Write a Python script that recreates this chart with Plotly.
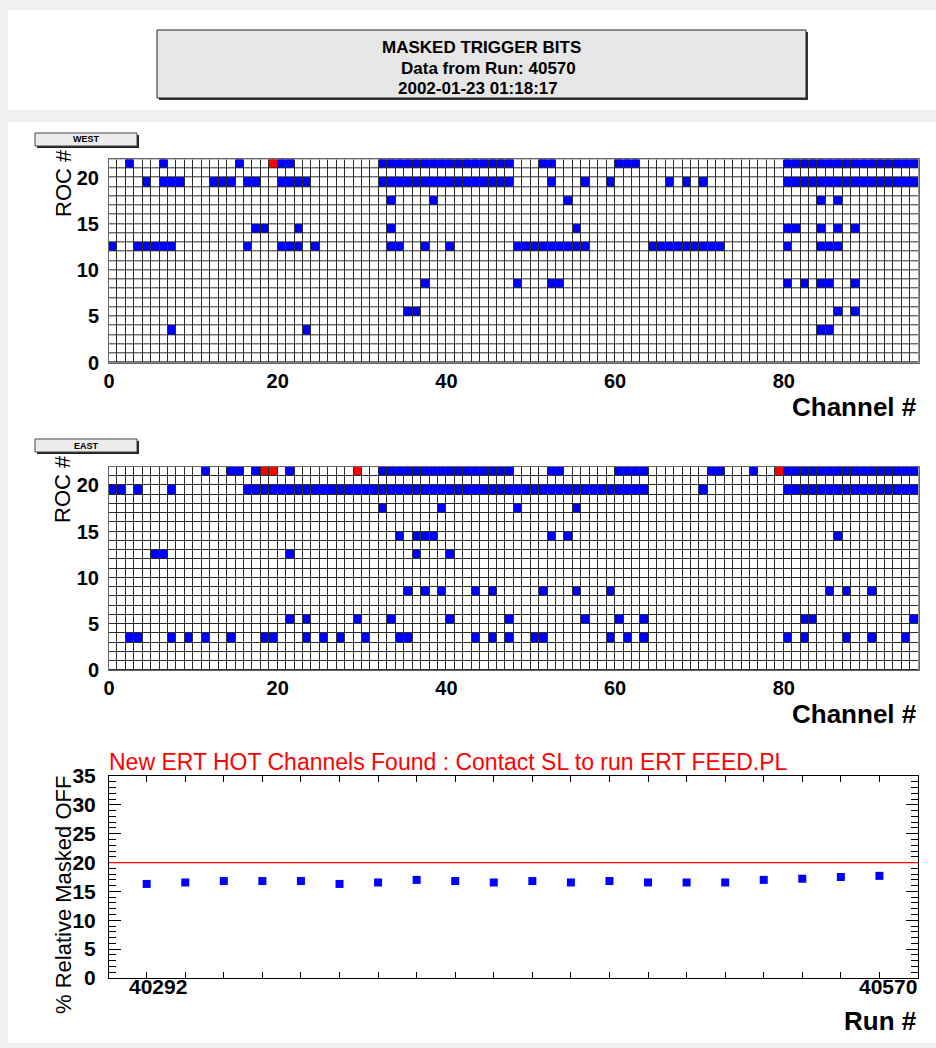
import numpy as np
import plotly.graph_objects as go

# ---------------- DATA ----------------
N_CHANNELS = 96
N_ROCS = 22

# WEST: masked (blue) channels per ROC
WEST_ROC21 = [2, 6, 15, 20, 21, 32, 33, 34, 35, 36, 37, 38, 39, 40, 41, 42, 43, 44, 45, 46, 47,
              51, 52, 60, 61, 62, 80, 81, 82, 83, 84, 85, 86, 87, 88, 89, 90, 91, 92, 93, 94, 95]
WEST_ROC19 = [4, 6, 7, 8, 12, 13, 14, 16, 17, 20, 21, 22, 23, 32, 33, 34, 35, 36, 37, 38, 39,
              40, 41, 42, 43, 44, 45, 46, 47, 52, 56, 59, 66, 68, 70, 80, 81, 82, 83, 84, 85,
              86, 87, 88, 89, 90, 91, 92, 93, 94, 95]
WEST_ROC17 = [33, 38, 54, 84, 86]
WEST_ROC14 = [17, 18, 22, 33, 55, 80, 81, 84, 86, 88]
WEST_ROC12 = [0, 3, 4, 5, 6, 7, 16, 20, 21, 22, 24, 33, 34, 37, 40, 48, 49, 50, 51, 52, 53,
              54, 55, 56, 64, 65, 66, 67, 68, 69, 70, 71, 72, 80, 84, 85, 86]
WEST_ROC8 = [37, 48, 52, 53, 80, 82, 84, 85, 88]
WEST_ROC5 = [35, 36, 86, 88]
WEST_ROC3 = [7, 23, 84, 85]
# WEST: new hot (red) channels per ROC
WEST_HOT_ROC21 = [19]

# EAST: masked (blue) channels per ROC
EAST_ROC21 = [11, 14, 15, 17, 21, 32, 33, 34, 35, 36, 37, 38, 39, 40, 41, 42, 43, 44, 45, 46,
              47, 52, 53, 60, 61, 62, 63, 71, 72, 76, 80, 81, 82, 83, 84, 85, 86, 87, 88, 89,
              90, 91, 92, 93, 94, 95]
EAST_ROC19 = [0, 1, 3, 7, 16, 17, 18, 19, 20, 21, 22, 23, 24, 25, 26, 27, 28, 29, 30, 31, 32,
              33, 34, 35, 36, 37, 38, 39, 40, 41, 42, 43, 44, 45, 46, 47, 48, 49, 50, 51, 52,
              53, 54, 55, 56, 57, 58, 59, 60, 61, 62, 63, 70, 80, 81, 82, 83, 84, 85, 86, 87,
              88, 89, 90, 91, 92, 93, 94, 95]
EAST_ROC17 = [32, 39, 48, 55]
EAST_ROC14 = [34, 36, 37, 38, 52, 54, 86]
EAST_ROC12 = [5, 6, 21, 36, 40]
EAST_ROC8 = [35, 37, 39, 43, 45, 51, 55, 59, 85, 87, 90]
EAST_ROC5 = [21, 23, 29, 33, 40, 47, 56, 60, 63, 82, 83, 95]
EAST_ROC3 = [2, 3, 7, 9, 11, 14, 18, 19, 23, 25, 27, 30, 34, 35, 43, 45, 47, 50, 51, 59, 61,
             63, 80, 82, 87, 90, 94]
# EAST: new hot (red) channels per ROC
EAST_HOT_ROC21 = [18, 19, 29, 79]

# Bottom history: % relative masked OFF per run (20 runs)
RUN_FIRST = "40292"
RUN_LAST = "40570"
PCT_MASKED = [16.3, 16.55, 16.8, 16.8, 16.8, 16.3, 16.55, 17.0, 16.8, 16.55,
              16.8, 16.55, 16.8, 16.55, 16.55, 16.55, 17.0, 17.2, 17.5, 17.7]
THRESHOLD = 20

GRID_X_TICKS = [0, 20, 40, 60, 80]
GRID_Y_TICKS = [0, 5, 10, 15, 20]

# ---------------- BUILD ----------------
W, H = 936, 1048
def px(x):
    return x / W
def py(y):
    return 1 - y / H

def build_z(masked, hot):
    z = np.zeros((N_ROCS, N_CHANNELS))
    for roc, chans in masked:
        for c in chans:
            z[roc, c] = 1
    for roc, chans in hot:
        for c in chans:
            z[roc, c] = 2
    return z

z_west = build_z([(21, WEST_ROC21), (19, WEST_ROC19), (17, WEST_ROC17), (14, WEST_ROC14),
                  (12, WEST_ROC12), (8, WEST_ROC8), (5, WEST_ROC5), (3, WEST_ROC3)],
                 [(21, WEST_HOT_ROC21)])
z_east = build_z([(21, EAST_ROC21), (19, EAST_ROC19), (17, EAST_ROC17), (14, EAST_ROC14),
                  (12, EAST_ROC12), (8, EAST_ROC8), (5, EAST_ROC5), (3, EAST_ROC3)],
                 [(21, EAST_HOT_ROC21)])

cscale = [[0, "#ffffff"], [0.25, "#ffffff"], [0.25, "#0000ff"], [0.75, "#0000ff"],
          [0.75, "#ff0000"], [1, "#ff0000"]]

FONT = "Liberation Sans, Arial, Helvetica, sans-serif"

fig = go.Figure()
for z, xa, ya in [(z_west, "x", "y"), (z_east, "x2", "y2")]:
    fig.add_trace(go.Heatmap(z=z, x0=0.5, dx=1, y0=0.5, dy=1, xgap=1, ygap=1,
                             colorscale=cscale, zmin=0, zmax=2, showscale=False,
                             hoverinfo="skip", xaxis=xa, yaxis=ya))

runs_idx = list(range(len(PCT_MASKED)))
fig.add_trace(go.Scatter(x=runs_idx, y=PCT_MASKED, mode="markers",
                         marker=dict(symbol="square", size=8, color="#0000ff"),
                         xaxis="x3", yaxis="y3", hoverinfo="skip", showlegend=False))

grid_x = dict(range=[0, N_CHANNELS], tickvals=GRID_X_TICKS, ticks="", showgrid=False,
              zeroline=False, showline=True, linecolor="#666666", linewidth=1, mirror=True,
              tickfont=dict(family=FONT, size=20, color="black", weight="bold"),
              ticklabelstandoff=0, fixedrange=True, automargin=False)
grid_y = dict(range=[0, N_ROCS], tickvals=GRID_Y_TICKS, ticks="", showgrid=False,
              zeroline=False, showline=True, linecolor="#666666", linewidth=1, mirror=True,
              tickfont=dict(family=FONT, size=20, color="black", weight="bold"),
              ticklabelstandoff=5, fixedrange=True, automargin=False)

fig.update_layout(
    template="none",
    width=W, height=H, margin=dict(l=0, r=0, t=0, b=0, pad=0, autoexpand=False),
    paper_bgcolor="#f0f0f0", plot_bgcolor="#ffffff", showlegend=False,
    xaxis=dict(grid_x, domain=[px(109), px(918.7)], anchor="y"),
    yaxis=dict(grid_y, domain=[py(362.7), py(159.3)], anchor="x"),
    xaxis2=dict(grid_x, domain=[px(109), px(918.7)], anchor="y2"),
    yaxis2=dict(grid_y, domain=[py(670.3), py(467)], anchor="x2"),
    xaxis3=dict(domain=[px(109), px(918)], anchor="y3", range=[-0.977, len(PCT_MASKED)],
                tickvals=runs_idx, ticktext=[""] * len(runs_idx), ticks="inside", ticklen=6,
                tickcolor="black", showline=True, linecolor="black", linewidth=1,
                mirror="ticks", showgrid=False, zeroline=False, fixedrange=True,
                automargin=False),
    yaxis3=dict(domain=[py(978), py(776)], anchor="x3", range=[0, 35], dtick=5,
                ticks="inside", ticklen=12, tickcolor="black",
                minor=dict(ticks="inside", ticklen=7, dtick=1, tickcolor="black", showgrid=False),
                showline=True, linecolor="black", linewidth=1, mirror="ticks",
                showgrid=False, zeroline=False,
                tickfont=dict(family=FONT, size=21, color="black", weight="bold"),
                ticklabelstandoff=8, fixedrange=True, automargin=False),
)

shapes = []
# white panels
shapes.append(dict(type="rect", xref="paper", yref="paper", x0=px(8), x1=px(936),
                   y0=py(110), y1=py(10), fillcolor="white", line=dict(width=0), layer="below"))
shapes.append(dict(type="rect", xref="paper", yref="paper", x0=px(8), x1=px(936),
                   y0=py(1043), y1=py(122), fillcolor="white", line=dict(width=0), layer="below"))
# title box with shadow
shapes.append(dict(type="rect", xref="paper", yref="paper", x0=px(159), x1=px(808),
                   y0=py(100), y1=py(32), fillcolor="#333333", line=dict(width=0)))
shapes.append(dict(type="rect", xref="paper", yref="paper", x0=px(157), x1=px(806),
                   y0=py(98), y1=py(30), fillcolor="#e6e6e6", line=dict(color="#222222", width=1)))
# WEST / EAST label boxes
for ytop in (133, 439):
    shapes.append(dict(type="rect", xref="paper", yref="paper", x0=px(37), x1=px(139),
                       y0=py(ytop + 15), y1=py(ytop + 2), fillcolor="#222222", line=dict(width=0)))
    shapes.append(dict(type="rect", xref="paper", yref="paper", x0=px(35), x1=px(137),
                       y0=py(ytop + 13), y1=py(ytop), fillcolor="#ececec",
                       line=dict(color="#444444", width=1)))
# dark background behind heatmaps -> grid lines
for xr, yr in (("x", "y"), ("x2", "y2")):
    shapes.append(dict(type="rect", xref=xr, yref=yr, x0=0, x1=N_CHANNELS, y0=0, y1=N_ROCS,
                       fillcolor="#2a2a2a", line=dict(width=0), layer="below"))
# threshold line
shapes.append(dict(type="line", xref="x3 domain", yref="y3", x0=0, x1=1, y0=THRESHOLD,
                   y1=THRESHOLD, line=dict(color="#ff0000", width=1.2)))
fig.update_layout(shapes=shapes)

ann = []
def A(text, x, y, size, bold=False, color="black", xanchor="center", yanchor="middle",
      angle=0, xref="paper", yref="paper", xshift=0):
    ann.append(dict(text=text, x=x, y=y, xref=xref, yref=yref, showarrow=False,
                    xanchor=xanchor, yanchor=yanchor, textangle=angle, xshift=xshift,
                    font=dict(family=FONT, size=size, color=color,
                              weight="bold" if bold else "normal")))

A("MASKED TRIGGER BITS", px(482), py(47), 17, bold=True)
A("Data from Run: 40570", px(488), py(69), 17, bold=True)
A("2002-01-23 01:18:17", px(478), py(89), 17, bold=True)
A("WEST", px(86), py(139.5), 9, bold=True)
A("EAST", px(86), py(445.5), 9, bold=True)
A("ROC #", px(63), py(183), 22, angle=-90)
A("ROC #", px(63), py(489), 22, angle=-90)
A("Channel #", px(919), py(407), 26, bold=True, xanchor="right")
A("Channel #", px(919), py(714), 26, bold=True, xanchor="right")
A("New ERT HOT Channels Found : Contact SL to run ERT FEED.PL", px(107), py(762), 23,
  color="#ff0000", xanchor="left")
A("% Relative Masked OFF", px(63), py(895), 22, angle=-90)
A(RUN_FIRST, runs_idx[0], py(986), 21, bold=True, xref="x3", xshift=11)
A(RUN_LAST, runs_idx[-1], py(986), 21, bold=True, xref="x3", xshift=9)
A("Run #", px(919), py(1021), 26, bold=True, xanchor="right")
fig.update_layout(annotations=ann)

fig.write_html("out.html", config={"displayModeBar": False},
               post_script="document.body.style.margin='0';document.body.style.padding='0';")
